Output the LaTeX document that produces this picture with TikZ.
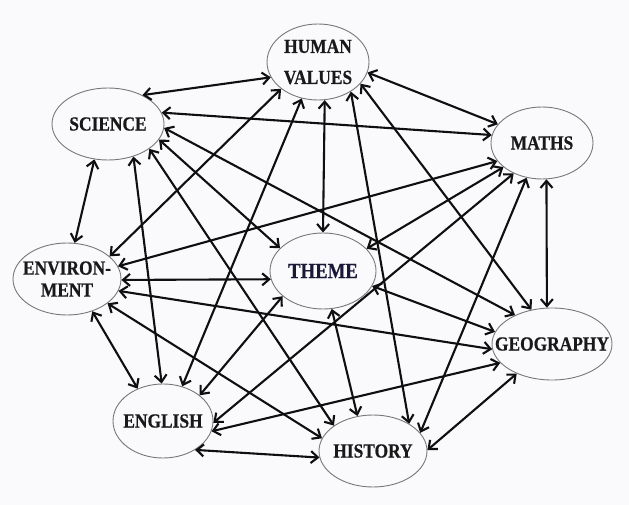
\documentclass[tikz,border=0pt]{standalone}
\usepackage{fontspec}
\newfontfamily\lblfont[FakeStretch=0.87,FakeBold=0.6]{Liberation Serif}
\usetikzlibrary{shapes.geometric,arrows.meta}
\definecolor{bgcol}{RGB}{250,250,252}
\definecolor{edgecol}{RGB}{15,15,15}
\definecolor{rimcol}{RGB}{120,120,120}
\definecolor{txtcol}{RGB}{25,25,25}
\definecolor{themecol}{RGB}{25,25,55}
\begin{document}
\begin{tikzpicture}[x=1pt,y=-1pt,
  topic/.style={ellipse, draw=rimcol, line width=0.9pt, inner sep=0pt},
  lbl/.style={font=\lblfont\bfseries\fontsize{20}{22}\selectfont, text=txtcol, align=center, inner sep=0pt},
  link/.style={<->, >={Straight Barb[length=7pt,width=12pt]}, line width=2.1pt, draw=edgecol}]
\fill[bgcol] (0,0) rectangle (629,505);
\useasboundingbox (0,0) rectangle (629,505);

\node[topic, minimum width=102pt, minimum height=76pt,
  label={[lbl, font=\lblfont\bfseries\fontsize{20}{31}\selectfont]center:HUMAN\\VALUES}] (hv) at (318,62) {};
\node[topic, minimum width=112pt, minimum height=72pt, label={[lbl]center:SCIENCE}] (sci) at (108,124) {};
\node[topic, minimum width=102pt, minimum height=72pt, label={[lbl]center:MATHS}] (mat) at (542,143) {};
\node[topic, minimum width=108pt, minimum height=72pt, label={[lbl]center:ENVIRON-\\MENT}] (env) at (67,279) {};
\node[topic, minimum width=106pt, minimum height=76pt,
  label={[lbl, text=themecol, font=\lblfont\bfseries\fontsize{21.5}{24}\selectfont]center:THEME}] (the) at (323,271) {};
\node[topic, minimum width=120pt, minimum height=72pt, label={[lbl]center:GEOGRAPHY}] (geo) at (552,344) {};
\node[topic, minimum width=100pt, minimum height=74pt, label={[lbl]center:ENGLISH}] (eng) at (163,421) {};
\node[topic, minimum width=108pt, minimum height=72pt, label={[lbl]center:HISTORY}] (his) at (373,451) {};

\draw[link] (sci.40) -- (hv.198);
\draw[link] (sci.12) -- (mat.171);
\draw[link] (sci.356) -- (geo.142);
\draw[link] (sci.343) -- (the.152);
\draw[link] (sci.329) -- (his.147);
\draw[link] (sci.308) -- (eng.92);
\draw[link] (sci.249) -- (env.78);
\draw[link] (hv.348) -- (mat.157);
\draw[link] (hv.216) -- (env.28);
\draw[link] (hv.246) -- (eng.61);
\draw[link] (hv.280) -- (the.90);
\draw[link] (hv.318) -- (his.37);
\draw[link] (hv.333) -- (geo.121);
\draw[link] (mat.202) -- (env.14);
\draw[link] (mat.212) -- (the.27);
\draw[link] (mat.227) -- (eng.358);
\draw[link] (mat.246) -- (his.21);
\draw[link] (mat.277) -- (geo.98);
\draw[link] (env.359) -- (the.189);
\draw[link] (env.347) -- (geo.185);
\draw[link] (env.329) -- (his.166);
\draw[link] (env.308) -- (eng.128);
\draw[link] (the.212) -- (eng.35);
\draw[link] (the.283) -- (his.114);
\draw[link] (the.343) -- (geo.168);
\draw[link] (geo.200) -- (eng.348);
\draw[link] (geo.220) -- (his.1);
\draw[link] (eng.318) -- (his.187);
\end{tikzpicture}
\end{document}
